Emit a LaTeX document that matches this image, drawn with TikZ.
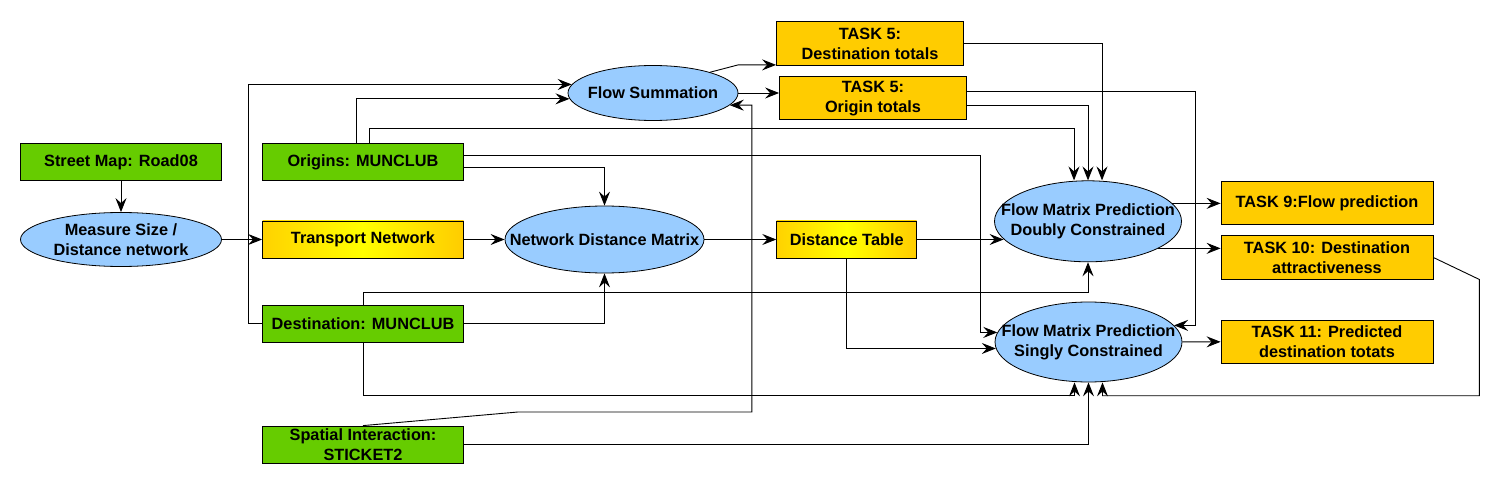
\documentclass[tikz,border=0pt]{standalone}
\usepackage{fontspec}
\setmainfont{Liberation Sans}
\usetikzlibrary{arrows.meta, shapes.geometric}

\definecolor{inputgreen}{HTML}{66CC00}
\definecolor{procblue}{HTML}{99CCFF}
\definecolor{taskorange}{HTML}{FFCC00}
\definecolor{gradgold}{HTML}{FFD200}

\begin{document}
\begin{tikzpicture}[
    x=1pt, y=-1pt,
    box/.style={rectangle, draw, line width=0.8pt, inner sep=1pt, align=center,
                font=\bfseries\fontsize{16.3}{20}\selectfont},
    input/.style={box, fill=inputgreen, minimum width=201pt, minimum height=37pt},
    data/.style={box, left color=gradgold, right color=taskorange, middle color=yellow,
                 minimum height=37pt},
    task/.style={box, fill=taskorange, minimum height=44pt},
    proc/.style={ellipse, draw, line width=0.8pt, fill=procblue, inner xsep=-40pt,
                 inner ysep=0pt, align=center, font=\bfseries\fontsize{16.3}{20}\selectfont},
    flow/.style={-{Stealth[length=14pt, width=11pt, inset=5pt]}, line width=0.9pt}
]
\useasboundingbox (0,0) rectangle (1500,489);

% Inputs
\node[input] (street) at (121, 162) {Street Map: Road08};
\node[input] (origins) at (363, 162) {Origins: MUNCLUB};
\node[input] (dest) at (363, 323.7) {Destination: MUNCLUB};
\node[input] (spatial) at (363, 444.5) {Spatial Interaction:\\STICKET2};

% Data
\node[data, minimum width=201pt] (transport) at (363, 239.5) {Transport Network};
\node[data, minimum width=140pt] (disttab) at (846.7, 239.5) {Distance Table};

% Processes
\node[proc, minimum width=201pt, minimum height=54pt] (measure) at (121, 239.5) {Measure Size /\\Distance network};
\node[proc, minimum width=170pt, minimum height=55pt] (flowsum) at (653, 93) {Flow Summation};
\node[proc, minimum width=199pt, minimum height=67pt] (ndm) at (604.5, 239.5) {Network Distance Matrix};
\node[proc, minimum width=187pt, minimum height=81pt] (dbl) at (1088, 221.3) {Flow Matrix Prediction\\Doubly Constrained};
\node[proc, minimum width=187pt, minimum height=80pt] (sgl) at (1088.5, 342) {Flow Matrix Prediction\\Singly Constrained};

% Tasks
\node[task, minimum width=187pt] (t5dest) at (870, 43.5) {TASK 5:\\Destination totals};
\node[task, minimum width=187pt, minimum height=43pt] (t5orig) at (873, 98.3) {TASK 5:\\Origin totals};
\node[task, minimum width=212pt, minimum height=43pt] (t9) at (1327, 203.3) {TASK 9:Flow prediction};
\node[task, minimum width=212pt] (t10) at (1327, 257.5) {TASK 10: Destination\\attractiveness};
\node[task, minimum width=212pt, minimum height=43pt] (t11) at (1327, 341.7) {TASK 11: Predicted\\destination totats};

% Main chain
\draw[flow] (street) -- (measure);
\draw[flow] (measure) -- (transport);
\draw[flow] (transport) -- (ndm);
\draw[flow] (ndm) -- (disttab);
\draw[flow] (disttab) -- (disttab -| dbl.192);

% Flow summation
\draw[flow] (dest.west) -- ++(-14,0) |- (flowsum.174);
\draw[flow] ([xshift=-7pt]origins.north) |- (flowsum.184);
\draw[flow] (spatial.north) -- (518,412) -| ([xshift=22pt]flowsum.351) -- (flowsum.351);
\draw[flow] (flowsum.20) -- ([xshift=-38pt, yshift=1pt]t5dest.south west) -- ([yshift=1pt]t5dest.south west);
\draw[flow] (flowsum.east) -- (flowsum.east -| t5orig.west);

% Distance matrix inputs
\draw[flow] ([yshift=-5.7pt]origins.east) -| (ndm);
\draw[flow] (dest.east) -| (ndm);

% Doubly constrained inputs
\draw[flow] ([xshift=6pt]origins.north) |- ([xshift=-14pt, yshift=51.5pt]dbl.north) -- ([xshift=-14pt]dbl.north);
\draw[flow] ([yshift=-7.4pt]t5orig.east) -| (dbl.north);
\draw[flow] (t5dest.east) -| ([xshift=14pt]dbl.north);
\draw[flow] (dest.north) |- ([yshift=-30.7pt]dbl.south) -- (dbl.south);

% Singly constrained inputs
\draw[flow] ([yshift=6.3pt]origins.east) -| ([xshift=-17pt]sgl.174) -- (sgl.174);
\draw[flow] (disttab.south) |- (sgl.184);
\draw[flow] ([yshift=7.3pt]t5orig.east) -| ([xshift=21pt]sgl.11) -- (sgl.11);
\draw[flow] (dest.south) |- ([xshift=-14pt, yshift=-13.3pt]sgl.south) -- ([xshift=-14pt]sgl.south);
\draw[flow] (spatial.east) -| (sgl.south);
\draw[flow] (t10.east) -- ++(46,22) |- ([xshift=14pt, yshift=-13.3pt]sgl.south) -- ([xshift=14pt]sgl.south);

% Outputs
\draw[flow] (dbl.12) -- (dbl.12 -| t9.west);
\draw[flow] (dbl.339) -- (dbl.339 -| t10.west);
\draw[flow] (sgl) -- (t11);
\end{tikzpicture}
\end{document}
